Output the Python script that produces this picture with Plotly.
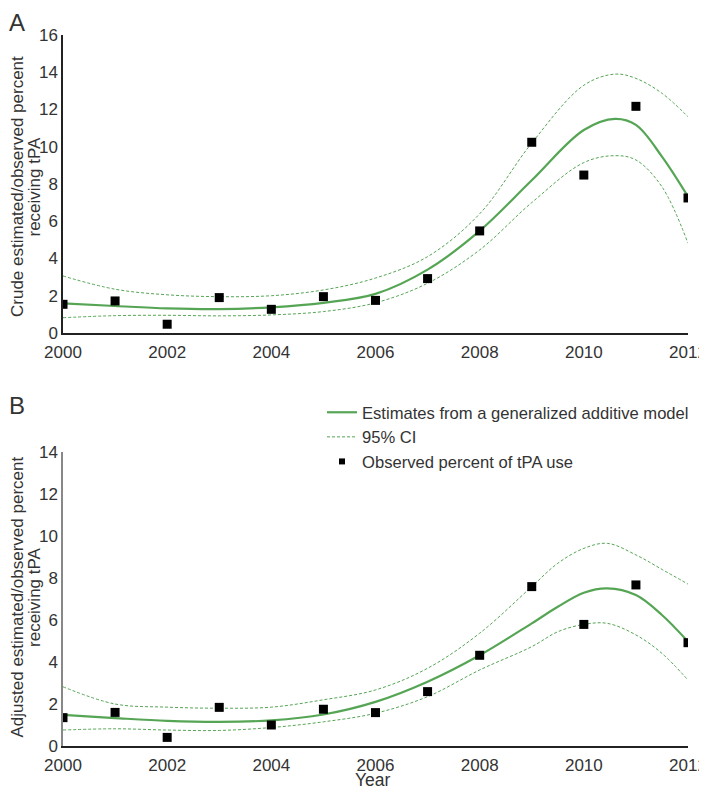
import plotly.graph_objects as go

years = [2000, 2001, 2002, 2003, 2004, 2005, 2006, 2007, 2008, 2009, 2010, 2011, 2012]

# Panel A (crude)
obs_a = [1.54, 1.72, 0.47, 1.90, 1.27, 1.95, 1.75, 2.92, 5.48, 10.24, 8.48, 12.17, 7.25]
fit_x_a = [2000, 2001, 2002, 2003, 2004, 2005, 2006, 2007, 2008, 2009, 2010, 2010.6, 2011, 2011.5, 2012]
fit_a = [1.59, 1.45, 1.32, 1.28, 1.38, 1.62, 2.1, 3.4, 5.48, 8.2, 10.9, 11.5, 11.17, 9.47, 7.32]
up_a = [3.06, 2.35, 2.05, 1.95, 2.0, 2.31, 2.95, 4.1, 6.4, 10.2, 13.3, 13.9, 13.67, 12.87, 11.61]
lo_a = [0.82, 0.93, 0.95, 0.92, 0.97, 1.15, 1.62, 2.67, 4.46, 7.0, 9.15, 9.52, 9.29, 7.85, 4.82]

# Panel B (adjusted)
obs_b = [1.35, 1.60, 0.41, 1.84, 1.00, 1.75, 1.59, 2.59, 4.32, 7.59, 5.79, 7.67, 4.92]
fit_x_b = [2000, 2001, 2002, 2003, 2004, 2005, 2006, 2007, 2008, 2009, 2009.5, 2010, 2010.45, 2011, 2011.5, 2012]
fit_b = [1.48, 1.33, 1.2, 1.15, 1.22, 1.5, 2.1, 3.06, 4.32, 5.84, 6.63, 7.3, 7.51, 7.19, 6.24, 4.97]
up_b = [2.82, 2.0, 1.85, 1.8, 1.85, 2.2, 2.67, 3.7, 5.37, 7.59, 8.7, 9.41, 9.65, 9.10, 8.41, 7.71]
lo_b = [0.76, 0.82, 0.76, 0.74, 0.88, 1.15, 1.56, 2.35, 3.62, 4.73, 5.44, 5.79, 5.84, 5.29, 4.41, 3.14]

x_ticks = [2000, 2002, 2004, 2006, 2008, 2010, 2012]
y_ticks_a = [0, 2, 4, 6, 8, 10, 12, 14, 16]
y_ticks_b = [0, 2, 4, 6, 8, 10, 12, 14]

title_a = ["Crude estimated/observed percent", "receiving tPA"]
title_b = ["Adjusted estimated/observed percent", "receiving tPA"]
x_title = "Year"

GREEN = "#55a555"
TXT = "#333333"
FONT = "Liberation Sans, Arial, sans-serif"
DASH = "3px,2px"

fig = go.Figure()

def add_panel(fx, fit, up, lo, obs, xa, ya):
    fig.add_trace(go.Scatter(x=fx, y=up, xaxis=xa, yaxis=ya, mode="lines",
                             line=dict(color=GREEN, width=1, dash=DASH, shape="spline"),
                             showlegend=False, hoverinfo="skip"))
    fig.add_trace(go.Scatter(x=fx, y=lo, xaxis=xa, yaxis=ya, mode="lines",
                             line=dict(color=GREEN, width=1, dash=DASH, shape="spline"),
                             showlegend=False, hoverinfo="skip"))
    fig.add_trace(go.Scatter(x=fx, y=fit, xaxis=xa, yaxis=ya, mode="lines",
                             line=dict(color=GREEN, width=2.2, shape="spline"),
                             showlegend=False))
    fig.add_trace(go.Scatter(x=years, y=obs, xaxis=xa, yaxis=ya, mode="markers",
                             marker=dict(symbol="square", size=9, color="black"),
                             showlegend=False))

add_panel(fit_x_a, fit_a, up_a, lo_a, obs_a, "x", "y")
add_panel(fit_x_b, fit_b, up_b, lo_b, obs_b, "x2", "y2")

# legend entries
fig.add_trace(go.Scatter(x=[None], y=[None], xaxis="x2", yaxis="y2", mode="lines",
                         line=dict(color=GREEN, width=2.2),
                         name="Estimates from a generalized additive model"))
fig.add_trace(go.Scatter(x=[None], y=[None], xaxis="x2", yaxis="y2", mode="lines",
                         line=dict(color=GREEN, width=1, dash=DASH),
                         name="95% CI"))
fig.add_trace(go.Scatter(x=[None], y=[None], xaxis="x2", yaxis="y2", mode="markers",
                         marker=dict(symbol="square", size=6, color="black"),
                         name="Observed percent of tPA use"))

axis_common = dict(showgrid=False, zeroline=False, ticks="", showline=True,
                   automargin=False,
                   tickfont=dict(size=17, color=TXT, family=FONT))

TITLE_FONT = dict(size=17, color=TXT, family=FONT)

fig.update_layout(
    width=699, height=782,
    margin=dict(l=55, r=19, t=27, b=44),
    paper_bgcolor="white", plot_bgcolor="white",
    font=dict(family=FONT, size=16, color=TXT),
    xaxis=dict(domain=[0, 1.0], range=[2000, 2012], tickvals=x_ticks,
               linecolor="#222222", linewidth=1.5, anchor="y", ticklabelstandoff=3,
               **axis_common),
    yaxis=dict(domain=[0.5809, 1.0], range=[0, 16], tickvals=y_ticks_a,
               linecolor="#222222", linewidth=1.5, anchor="x", **axis_common),
    xaxis2=dict(domain=[0, 1.0], range=[2000, 2012], tickvals=x_ticks,
                linecolor="#222222", linewidth=1.5, anchor="y2", ticklabelstandoff=3,
                **axis_common),
    yaxis2=dict(domain=[0, 0.4135], range=[0, 14], tickvals=y_ticks_b,
                linecolor="#888888", linewidth=1.5, anchor="x2", **axis_common),
    legend=dict(x=0.4144, y=0.4937, xanchor="left", yanchor="top",
                bgcolor="rgba(0,0,0,0)", font=dict(size=16.6, color=TXT, family=FONT),
                itemsizing="trace", tracegroupgap=0),
)

# y-axis titles as two rotated lines each
for lines, yc in ((title_a, 0.7869), (title_b, 0.2096)):
    for i, t in enumerate(lines):
        fig.add_annotation(text=t, xref="paper", yref="paper",
                           x=-0.0728 + i * 0.028, y=yc, xanchor="center", yanchor="middle",
                           textangle=-90, showarrow=False, borderpad=0, font=TITLE_FONT)

# x-axis title
fig.add_annotation(text=x_title, xref="paper", yref="paper", x=0.496, y=-0.0478,
                   xanchor="center", yanchor="middle", showarrow=False, borderpad=0,
                   font=dict(size=17.5, color=TXT, family=FONT))

# panel letters
fig.add_annotation(text="A", xref="paper", yref="paper", x=-0.088, y=1.038,
                   xanchor="left", yanchor="top", showarrow=False, borderpad=0,
                   font=dict(size=24, color=TXT, family=FONT))
fig.add_annotation(text="B", xref="paper", yref="paper", x=-0.088, y=0.4989,
                   xanchor="left", yanchor="top", showarrow=False, borderpad=0,
                   font=dict(size=24, color=TXT, family=FONT))

fig.write_html("out.html")
